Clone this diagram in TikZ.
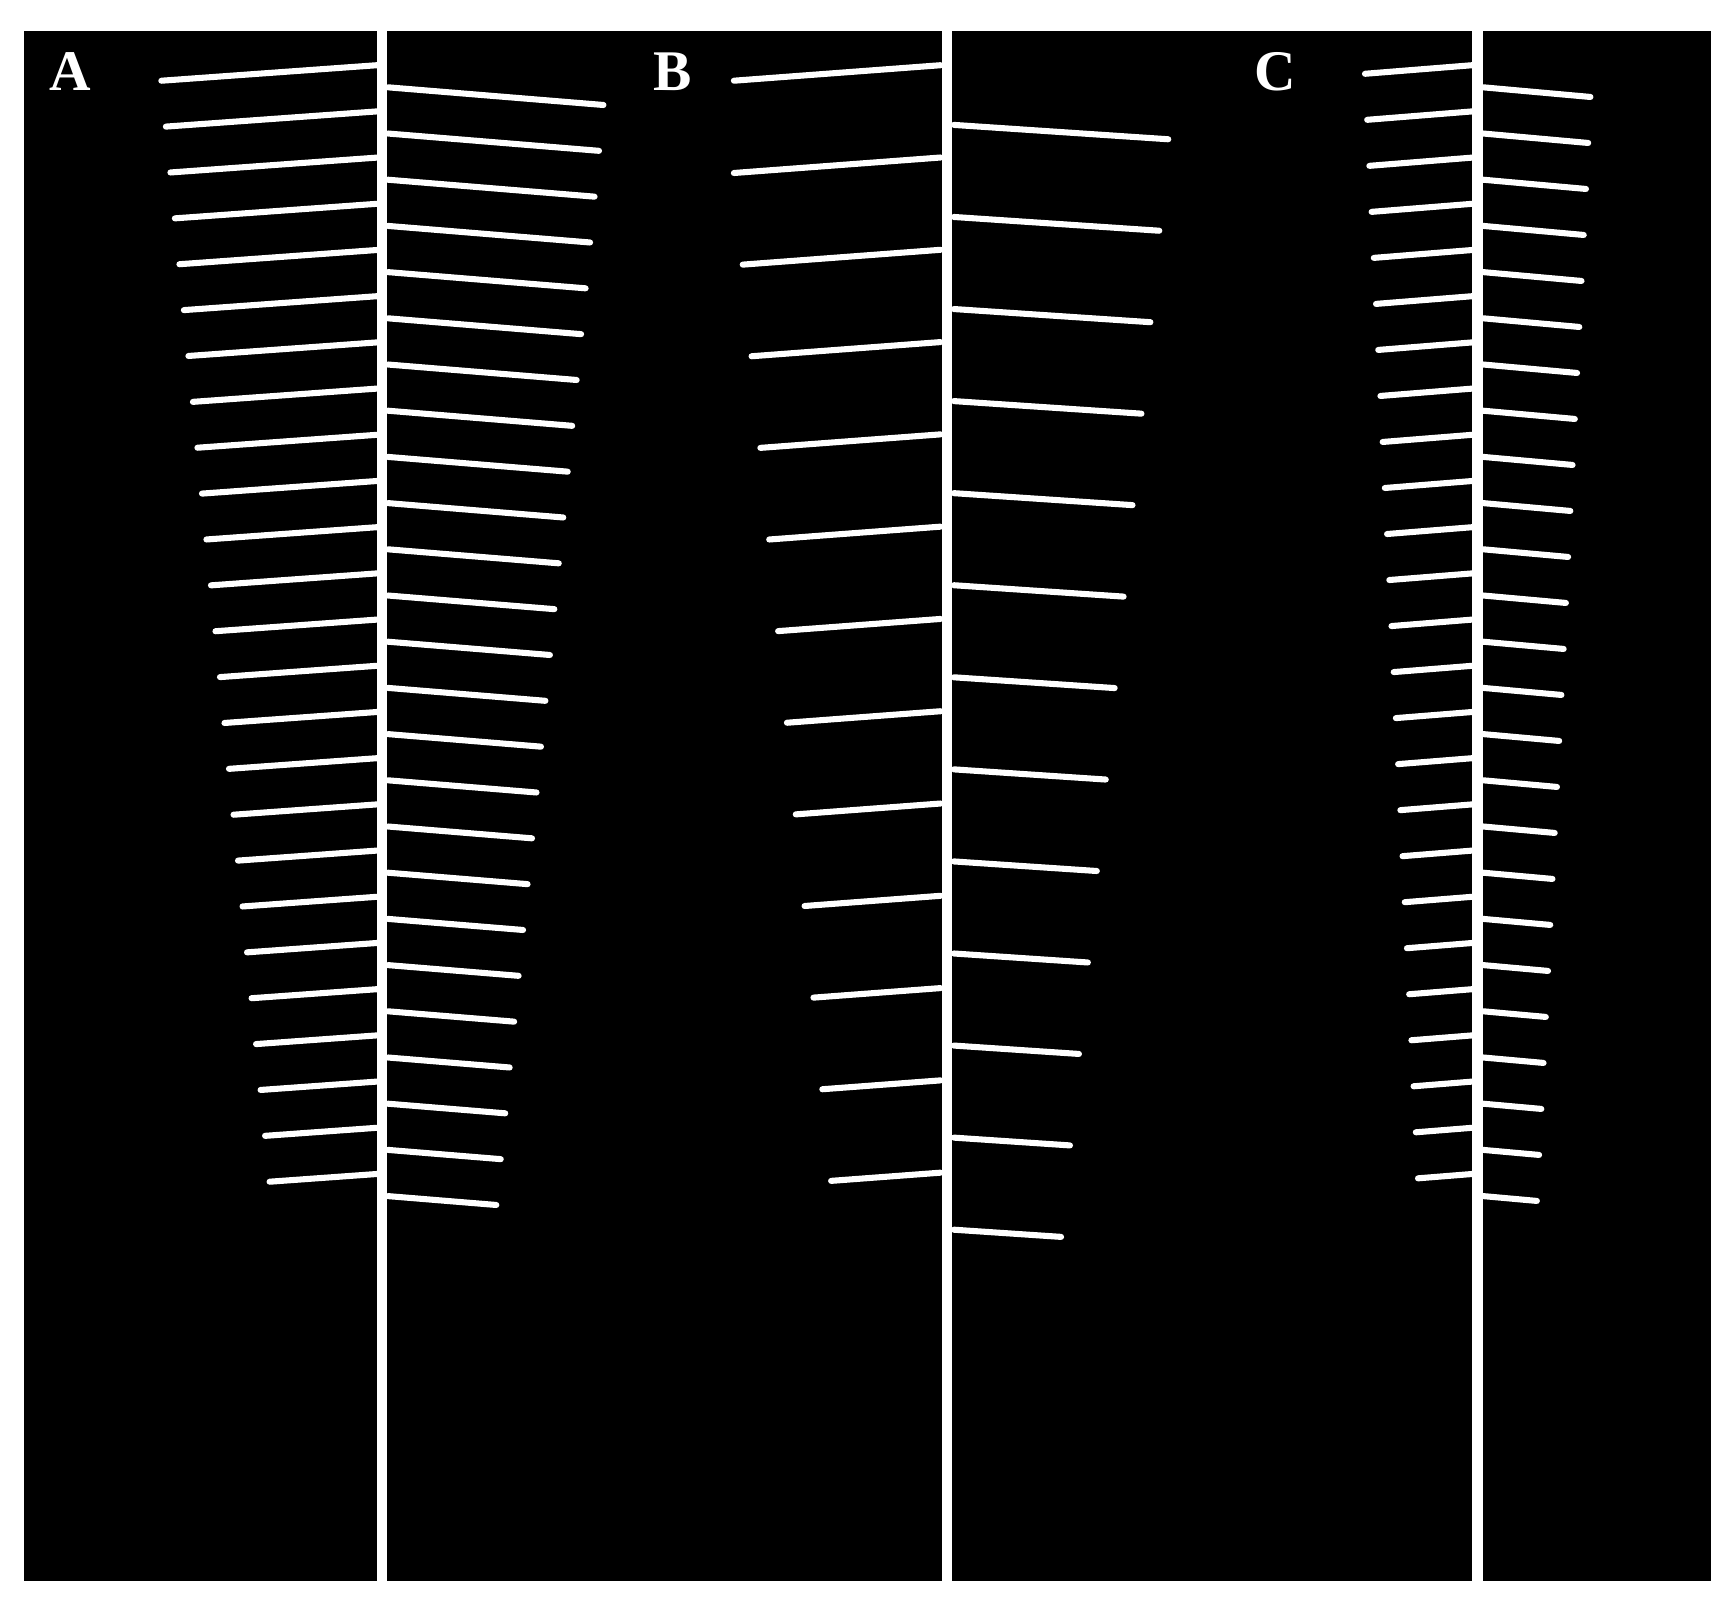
\documentclass[tikz,border=0pt]{standalone}
\usepackage{fontspec}
\setmainfont{Liberation Serif}
\begin{document}
\begin{tikzpicture}[x=1pt,y=-1pt,
  spine/.style={white, line width=9.5pt},
  branch/.style={white, line width=5.5pt, line cap=round},
  lbl/.style={text=white, font=\bfseries\fontsize{52}{56}\selectfont, inner sep=0pt, anchor=center}]
\useasboundingbox (0,0) rectangle (1568,1446);
\fill[white] (0,0) rectangle (1568,1446);
\fill[black] (22,28) rectangle (1548,1430);
% spines
\coordinate (sAt) at (345.5,28); \coordinate (sAb) at (345.5,1430);
\coordinate (sBt) at (857,28);   \coordinate (sBb) at (857,1430);
\coordinate (sCt) at (1337,28);  \coordinate (sCb) at (1337,1430);
\draw[spine] (sAt) -- (sAb);
\draw[spine] (sBt) -- (sBb);
\draw[spine] (sCt) -- (sCb);
% Panel A
\foreach \i in {0,...,24}{
  \pgfmathsetmacro\ys{59+41.8*\i}
  \pgfmathsetmacro\L{195-4.08*\i}
  \draw[branch] (341,\ys) -- ++(-\L,{0.072*\L});
  \pgfmathsetmacro\yr{79+41.8*\i}
  \pgfmathsetmacro\R{195-4.04*\i}
  \draw[branch] (351,\yr) -- ++(\R,{0.082*\R});
}
% Panel B
\foreach \i in {0,...,12}{
  \pgfmathsetmacro\ys{59+83.5*\i}
  \pgfmathsetmacro\L{\i==0 ? 187 : 187-8*(\i-1)}
  \draw[branch] (851,\ys) -- ++(-\L,{0.075*\L});
  \pgfmathsetmacro\yr{113+83.3*\i}
  \pgfmathsetmacro\R{194-8.08*\i}
  \draw[branch] (863,\yr) -- ++(\R,{0.067*\R});
}
% Panel C
\foreach \i in {0,...,24}{
  \pgfmathsetmacro\ys{59+41.8*\i}
  \pgfmathsetmacro\L{97-2*\i}
  \draw[branch] (1332,\ys) -- ++(-\L,{0.08*\L});
  \pgfmathsetmacro\yr{79+41.8*\i}
  \pgfmathsetmacro\R{97-2.02*\i}
  \draw[branch] (1342,\yr) -- ++(\R,{0.09*\R});
}
\node[lbl] (labA) at (64,65) {A};
\node[lbl] (labB) at (609,65) {B};
\node[lbl] (labC) at (1154,65) {C};
\end{tikzpicture}
\end{document}
